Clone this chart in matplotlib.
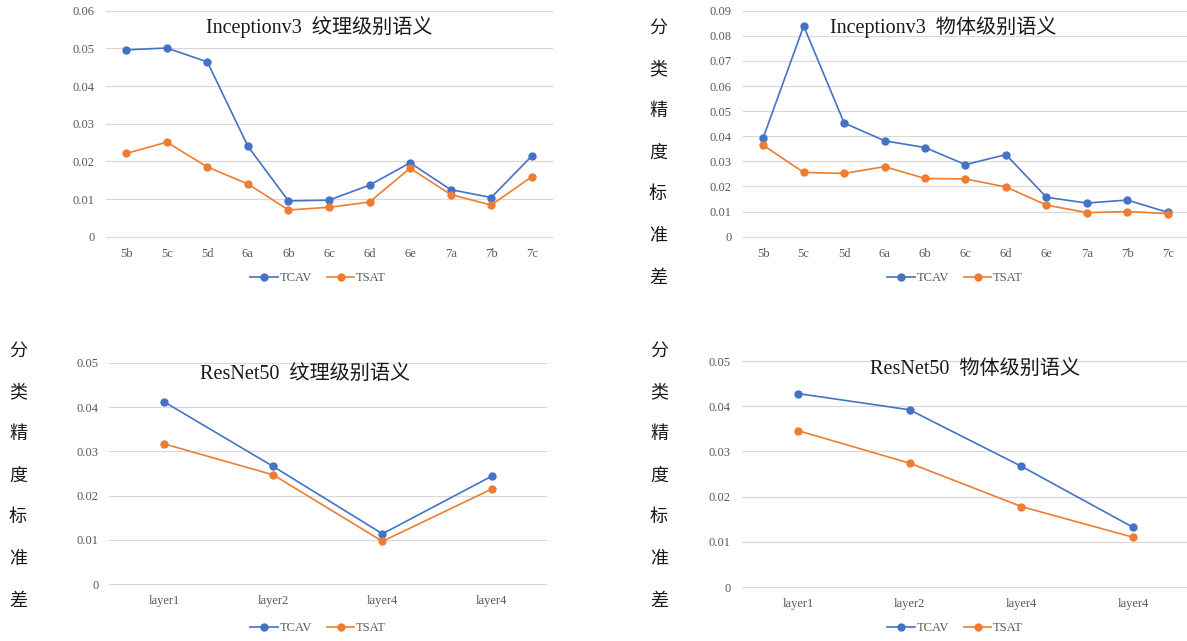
import matplotlib.pyplot as plt

W, H = 1187, 641

# layer names
incep_layers = ['5b', '5c', '5d', '6a', '6b', '6c', '6d', '6e', '7a', '7b', '7c']
resnet_layers = ['layer1', 'layer2', 'layer4', 'layer4']

# Inceptionv3, texture-level concepts
incep_tex_tcav = [0.0496, 0.0501, 0.0464, 0.0240, 0.0095, 0.0097, 0.0137, 0.0196, 0.0125, 0.0104, 0.0214]
incep_tex_tsat = [0.0221, 0.0251, 0.0185, 0.0140, 0.0071, 0.0078, 0.0092, 0.0182, 0.0112, 0.0084, 0.0159]

# Inceptionv3, object-level concepts
incep_obj_tcav = [0.0394, 0.0839, 0.0453, 0.0382, 0.0355, 0.0287, 0.0327, 0.0157, 0.0134, 0.0146, 0.0097]
incep_obj_tsat = [0.0364, 0.0256, 0.0252, 0.0279, 0.0232, 0.0230, 0.0198, 0.0126, 0.0096, 0.0100, 0.0092]

# ResNet50
res_tex_tcav = [0.0412, 0.0266, 0.0114, 0.0244]
res_tex_tsat = [0.0317, 0.0247, 0.0097, 0.0215]
res_obj_tcav = [0.0428, 0.0392, 0.0267, 0.0132]
res_obj_tsat = [0.0346, 0.0274, 0.0178, 0.0110]

BLUE = '#4472C4'
ORANGE = '#ED7D31'
GRAY = '#595959'
SERIF = ['Liberation Serif', 'Noto Sans CJK SC']
YLABEL = '分类精度标准差'

fig = plt.figure(figsize=(W / 100, H / 100), dpi=100)


def fx(x):
    return x / W


def fy(y):
    return 1 - y / H


def panel(box, cats, tcav, tsat, ymax, title, title_pos, legend_pos):
    left, top, right, bottom = box
    ax = fig.add_axes([fx(left), fy(bottom), (right - left) / W, (bottom - top) / H])
    x = range(len(cats))
    ax.plot(x, tcav, color=BLUE, lw=1.2, marker='o', ms=5, label='TCAV', zorder=3)
    ax.plot(x, tsat, color=ORANGE, lw=1.2, marker='o', ms=5, label='TSAT', zorder=3)
    ax.set_xlim(-0.5, len(cats) - 0.5)
    ax.set_ylim(0, ymax)
    ticks = [i * 0.01 for i in range(int(round(ymax / 0.01)) + 1)]
    ax.set_yticks(ticks)
    ax.set_yticklabels(['0' if t == 0 else f'{t:.2f}' for t in ticks])
    ax.set_xticks(list(x))
    ax.set_xticklabels(cats)
    ax.grid(axis='y', color='#D9D9D9', lw=0.9)
    for g in ax.get_ygridlines():
        g.set_clip_on(False)
    ax.set_axisbelow(True)
    for s in ax.spines.values():
        s.set_visible(False)
    ax.tick_params(length=0, colors=GRAY, labelsize=9)
    ax.tick_params(axis='y', pad=8)
    ax.tick_params(axis='x', pad=8)
    for lab in ax.get_xticklabels() + ax.get_yticklabels():
        lab.set_family(SERIF)
    fig.text(fx(title_pos[0]), fy(title_pos[1]), title, family=SERIF,
             fontsize=14.5, color='#1a1a1a', ha='center', va='center')
    leg = ax.legend(loc='center', bbox_to_anchor=(fx(legend_pos[0]), fy(legend_pos[1])),
                    bbox_transform=fig.transFigure, ncol=2, frameon=False,
                    handlelength=2.2, handletextpad=0.15, columnspacing=1.2,
                    prop={'family': SERIF, 'size': 9})
    for t in leg.get_texts():
        t.set_color(GRAY)
    return ax


def side_label(x, y0, step):
    for i, ch in enumerate(YLABEL):
        fig.text(fx(x), fy(y0 + i * step), ch, family=SERIF, fontsize=13,
                 color='#1a1a1a', ha='center', va='center')


panel((106, 10.7, 552, 236.7), incep_layers, incep_tex_tcav, incep_tex_tsat, 0.06,
      'Inceptionv3  纹理级别语义', (319, 27), (318, 278))
panel((743, 10.7, 1188, 236.7), incep_layers, incep_obj_tcav, incep_obj_tsat, 0.09,
      'Inceptionv3  物体级别语义', (943, 27), (955, 278))
panel((109.4, 362.8, 546.3, 584.3), resnet_layers, res_tex_tcav, res_tex_tsat, 0.05,
      'ResNet50  纹理级别语义', (305, 374), (318, 628))
panel((742, 361, 1189, 587), resnet_layers, res_obj_tcav, res_obj_tsat, 0.05,
      'ResNet50  物体级别语义', (975, 369), (955, 628))

side_label(658, 28, 41.7)
side_label(18, 351, 41.7)
side_label(659, 351, 41.7)

fig.savefig('out.png', dpi=100)
